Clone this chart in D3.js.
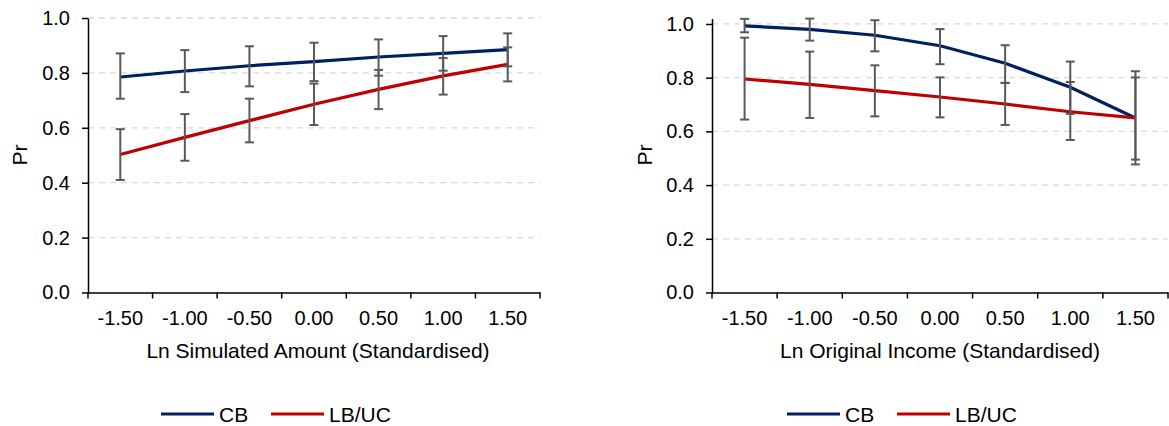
<!DOCTYPE html>
<html>
<head>
    <title>Pr by standardised amount / income</title>
    <script src="https://d3js.org/d3.v7.min.js"></script>
    <style>
        body { margin: 0; background: #fff; }
        text { font-family: "Liberation Sans", Arial, sans-serif; fill: #000; }
    </style>
</head>
<body>
    <svg id="chart"></svg>

    <script>
        // categories on the x axis (same for both panels)
        const categories = ['-1.50', '-1.00', '-0.50', '0.00', '0.50', '1.00', '1.50'];
        const yTicks = [0, 0.2, 0.4, 0.6, 0.8, 1.0];
        const seriesNames = ['CB', 'LB/UC'];

        // left panel: Ln Simulated Amount
        const leftCB = [0.785, 0.807, 0.826, 0.841, 0.858, 0.871, 0.885];
        const leftCBLow = [0.706, 0.730, 0.751, 0.770, 0.790, 0.808, 0.824];
        const leftCBHigh = [0.871, 0.883, 0.897, 0.910, 0.922, 0.934, 0.944];
        const leftLB = [0.503, 0.565, 0.626, 0.686, 0.740, 0.789, 0.831];
        const leftLBLow = [0.410, 0.480, 0.547, 0.610, 0.668, 0.721, 0.769];
        const leftLBHigh = [0.595, 0.650, 0.706, 0.761, 0.811, 0.854, 0.893];

        // right panel: Ln Original Income
        const rightCB = [0.993, 0.980, 0.958, 0.919, 0.854, 0.764, 0.650];
        const rightCBLow = [0.969, 0.938, 0.898, 0.850, 0.781, 0.665, 0.477];
        const rightCBHigh = [1.019, 1.020, 1.014, 0.981, 0.921, 0.860, 0.824];
        const rightLB = [0.795, 0.775, 0.752, 0.728, 0.702, 0.673, 0.650];
        const rightLBLow = [0.644, 0.650, 0.656, 0.652, 0.624, 0.568, 0.495];
        const rightLBHigh = [0.949, 0.897, 0.846, 0.801, 0.780, 0.784, 0.801];

        const colors = ['#002060', '#C00000'];
        const errColor = '#595959';
        const tickFont = '20px';
        const labelFont = '21px';

        const svg = d3.select('#chart')
            .attr('width', 1169)
            .attr('height', 426);

        function drawPanel(p) {
            const g = svg.append('g');

            const x = d3.scaleBand().domain(categories).range([p.left, p.right]).padding(0);
            const y = d3.scaleLinear().domain([0, p.yMax]).range([292.5, p.top]);

            // dashed gridlines
            g.selectAll('.grid')
                .data(yTicks.filter(d => d > 0))
                .enter().append('line')
                .attr('x1', p.left).attr('x2', p.right)
                .attr('y1', d => y(d)).attr('y2', d => y(d))
                .attr('stroke', '#d9d9d9')
                .attr('stroke-width', 1.3)
                .attr('stroke-dasharray', '6,5');

            // y axis
            const yAxis = g.append('g')
                .attr('transform', `translate(${p.left},0)`)
                .call(d3.axisLeft(y).tickValues(yTicks).tickFormat(d3.format('.1f')).tickSize(6).tickSizeOuter(0));
            yAxis.select('.domain').attr('stroke', '#000').attr('stroke-width', 1.5);
            yAxis.selectAll('.tick line').attr('stroke', '#000').attr('stroke-width', 1.5);
            yAxis.selectAll('.tick text')
                .attr('x', -18)
                .style('font-size', tickFont)
                .style('font-family', '"Liberation Sans", Arial, sans-serif');

            // x axis: labels centred in bands, ticks at band edges
            const xAxis = g.append('g')
                .attr('transform', 'translate(0,292.5)')
                .call(d3.axisBottom(x).tickSize(0).tickSizeOuter(0));
            xAxis.select('.domain').attr('stroke', '#000').attr('stroke-width', 1.5);
            xAxis.selectAll('.tick text')
                .attr('dy', null)
                .attr('y', 32.5)
                .style('font-size', tickFont)
                .style('font-family', '"Liberation Sans", Arial, sans-serif');
            const edges = categories.map(c => x(c)).concat([x(categories[categories.length - 1]) + x.bandwidth()]);
            xAxis.selectAll('.edge')
                .data(edges)
                .enter().append('line')
                .attr('x1', d => d).attr('x2', d => d)
                .attr('y1', 0).attr('y2', 6)
                .attr('stroke', '#000')
                .attr('stroke-width', 1.5);

            const cx = c => x(c) + x.bandwidth() / 2;

            // series lines
            const line = d3.line().x((d, i) => cx(categories[i])).y(d => y(d));
            p.series.forEach((s, k) => {
                g.append('path')
                    .datum(s.values)
                    .attr('d', line)
                    .attr('fill', 'none')
                    .attr('stroke', colors[k])
                    .attr('stroke-width', 3.2);
            });

            // error bars
            p.series.forEach(s => {
                const eb = categories.map((c, i) => ({ c: c, lo: s.low[i], hi: s.high[i] }));
                const ebG = g.append('g');
                ebG.selectAll('.stem').data(eb).enter().append('line')
                    .attr('x1', d => cx(d.c)).attr('x2', d => cx(d.c))
                    .attr('y1', d => y(d.lo)).attr('y2', d => y(d.hi))
                    .attr('stroke', errColor).attr('stroke-width', 2);
                ['lo', 'hi'].forEach(key => {
                    ebG.selectAll('.cap-' + key).data(eb).enter().append('line')
                        .attr('x1', d => cx(d.c) - 4.5).attr('x2', d => cx(d.c) + 4.5)
                        .attr('y1', d => y(d[key])).attr('y2', d => y(d[key]))
                        .attr('stroke', errColor).attr('stroke-width', 2);
                });
            });

            // axis titles
            g.append('text')
                .attr('transform', `translate(${p.yTitleX},155) rotate(-90)`)
                .attr('text-anchor', 'middle')
                .style('font-size', labelFont)
                .text('Pr');
            g.append('text')
                .attr('x', p.xTitleX)
                .attr('y', 358)
                .attr('text-anchor', 'middle')
                .style('font-size', labelFont)
                .text(p.xTitle);

            // legend
            const lg = g.append('g').attr('transform', `translate(${p.legendX},414)`);
            seriesNames.forEach((name, k) => {
                const ox = k * 110;
                lg.append('line')
                    .attr('x1', ox).attr('x2', ox + 53)
                    .attr('y1', 0).attr('y2', 0)
                    .attr('stroke', colors[k]).attr('stroke-width', 3.2);
                lg.append('text')
                    .attr('x', ox + 58)
                    .attr('y', 7.5)
                    .style('font-size', labelFont)
                    .text(name);
            });
        }

        drawPanel({
            left: 88, right: 540, top: 18, yMax: 1.0,
            yTitleX: 27, xTitle: 'Ln Simulated Amount (Standardised)', xTitleX: 318, legendX: 161,
            series: [
                { values: leftCB, low: leftCBLow, high: leftCBHigh },
                { values: leftLB, low: leftLBLow, high: leftLBHigh }
            ]
        });

        drawPanel({
            left: 712, right: 1168, top: 18.6, yMax: 1.02,
            yTitleX: 652, xTitle: 'Ln Original Income (Standardised)', xTitleX: 940, legendX: 787,
            series: [
                { values: rightCB, low: rightCBLow, high: rightCBHigh },
                { values: rightLB, low: rightLBLow, high: rightLBHigh }
            ]
        });
    </script>
</body>
</html>
